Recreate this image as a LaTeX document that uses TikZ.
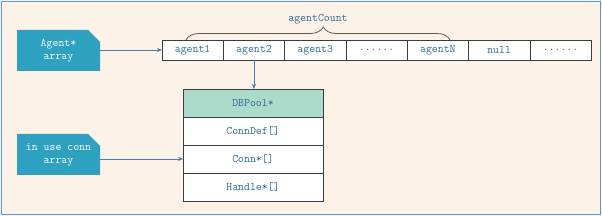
\documentclass[tikz,border=0pt]{standalone}
\usepackage{tikz}
\usetikzlibrary{shapes.misc, arrows.meta, positioning, decorations.pathreplacing}
\definecolor{panelcream}{RGB}{253,242,231}
\definecolor{panelblue}{RGB}{91,155,213}
\definecolor{tagblue}{RGB}{46,160,192}
\definecolor{inkblue}{RGB}{49,105,154}
\definecolor{poolgreen}{RGB}{170,219,203}
\definecolor{cellgray}{RGB}{60,60,60}
\definecolor{bracegray}{RGB}{90,90,90}

\begin{document}
\begin{tikzpicture}[
        x=1pt, y=-1pt,
        node distance=0pt,
        font=\ttfamily\fontsize{11.5}{13}\selectfont,
        tag/.style={chamfered rectangle, chamfered rectangle corners=north east, chamfered rectangle sep=6pt, fill=tagblue, text=white, align=center, minimum width=83pt, minimum height=41pt, inner sep=0pt, outer sep=0pt},
        cell/.style={rectangle, draw=cellgray, fill=white, semithick, text=inkblue, minimum width=61.3pt, minimum height=20pt, inner sep=0pt, outer sep=0pt},
        poolrow/.style={rectangle, draw=cellgray, fill=white, semithick, text=inkblue, minimum width=140pt, minimum height=28pt, inner sep=0pt, outer sep=0pt},
        link/.style={-{Stealth[length=5pt, width=4pt]}, draw=panelblue!80!black, line width=0.8pt},
        brace/.style={decorate, decoration={brace, amplitude=13pt, aspect=0.52}, draw=bracegray, line width=0.8pt}
    ]
        % Panel
        \fill[panelcream] (0,0) rectangle (602,216);
        \draw[panelblue, line width=1.2pt] (1.5,1.5) rectangle (600.5,214.5);

        % Nodes
        \node[tag] (agenttag) at (58.5,50.5) {Agent*\\array};
        \node[tag] (conntag) at (58.5,154.5) {in use conn\\array};

        \node[cell] (a1) at (192.65,50) {agent1};
        \node[cell, right=of a1] (a2) {agent2};
        \node[cell, right=of a2] (a3) {agent3};
        \node[cell, right=of a3] (a4) {......};
        \node[cell, right=of a4] (aN) {agentN};
        \node[cell, right=of aN] (anull) {null};
        \node[cell, right=of anull] (amore) {......};

        \node[poolrow, fill=poolgreen] (p1) at (253,103) {DBPool*};
        \node[poolrow, below=of p1] (p2) {ConnDef[]};
        \node[poolrow, below=of p2] (p3) {Conn*[]};
        \node[poolrow, below=of p3] (p4) {Handle*[]};

        % Brace
        \coordinate (cleft) at (186,40);
        \coordinate (cright) at (450,40);
        \draw[brace] (cleft) -- node[midway, above=12pt, text=inkblue] {agentCount} (cright);

        % Edges
        \draw[link] (agenttag.east |- a1.west) -- (a1.west);
        \draw[link] (a2.south) -- (a2.south |- p1.north);
        \draw[link] (conntag.east |- p3.west) -- (p3.west);

    \end{tikzpicture}
\end{document}
